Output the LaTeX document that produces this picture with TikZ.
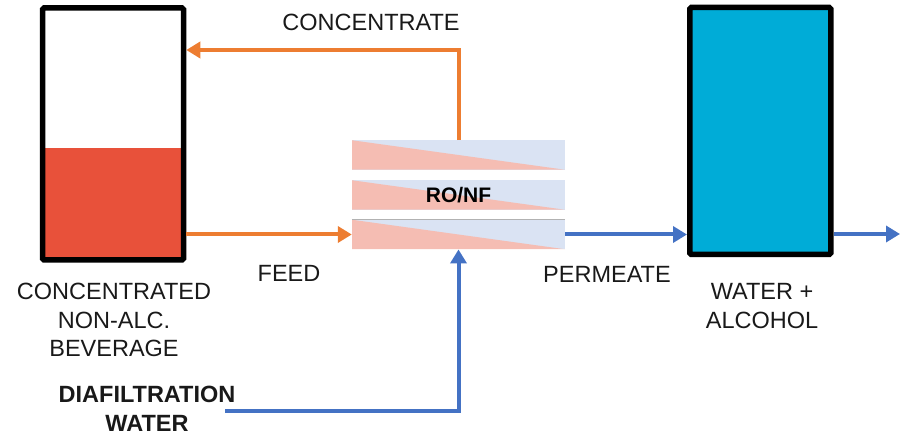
\documentclass[tikz,border=0pt]{standalone}
\usepackage{fontspec}
\setmainfont{Liberation Sans}
\usetikzlibrary{arrows.meta}
\definecolor{orangeC}{HTML}{ED7D31}
\definecolor{blueC}{HTML}{4472C4}
\definecolor{redC}{HTML}{E8513A}
\definecolor{cyanC}{HTML}{00ACD7}
\definecolor{lblue}{HTML}{DAE3F3}
\definecolor{pinkC}{HTML}{F5BDB3}
\tikzset{
  tank/.style={draw=black, line width=5.5pt, rounded corners=1.5pt, minimum width=141pt, inner sep=0pt},
  module/.style={fill=lblue, minimum width=213pt, minimum height=29.5pt, inner sep=0pt,
    path picture={\fill[pinkC] (path picture bounding box.north west) -- (path picture bounding box.south east) -- (path picture bounding box.south west) -- cycle;}},
  lbl/.style={font=\fontsize{23.5}{28.5}\selectfont, align=center, text=black!90, inner sep=0pt},
  flowO/.style={draw=orangeC, line width=4pt, -{Triangle[length=14pt,width=16pt]}},
  flowB/.style={draw=blueC, line width=4pt, -{Triangle[length=14pt,width=16pt]}},
}
\begin{document}
\begin{tikzpicture}[x=1pt,y=-1pt]
\useasboundingbox (0,0) rectangle (902,435);
% left tank
\fill[redC] (42.5,148) rectangle (183.5,260);
\node[tank, minimum height=252pt] (tankL) at (113,134) {};
% right tank
\node[tank, fill=cyanC, minimum height=247pt] (tankR) at (760.25,131) {};
% modules
\node[module] (m1) at (458.5,155) {};
\node[module] (m2) at (458.5,195) {\fontsize{21}{24}\selectfont\bfseries RO/NF};
\node[module] (m3) at (458.5,234.5) {};
\draw[black!30, line width=0.8pt] (m3.north west) -- (m3.north east);
% labels
\node[lbl] (lconc) at (371,22) {CONCENTRATE};
\node[lbl] (lfeed) at (289,273) {FEED};
\node[lbl] (lperm) at (607,274) {PERMEATE};
\node[lbl] (lbev) at (114,320) {CONCENTRATED\\NON-ALC.\\BEVERAGE};
\node[lbl] (lwa) at (762,306) {WATER +\\ALCOHOL};
\node[lbl, font=\fontsize{23.5}{28.5}\selectfont\bfseries] (ldia) at (147,409) {DIAFILTRATION\\WATER};
% connectors
\coordinate (c1) at (458.5,50);
\draw[flowO] (m1.north) -- (c1) -- (c1 -| tankL.east);
\draw[flowO] (tankL.east |- m3.west) -- (m3.west);
\coordinate (d1) at (225,411);
\draw[flowB] (d1) -| (m3.south);
\draw[flowB] (m3.east) -- (tankR.west |- m3.east);
\coordinate (o1) at (900,234);
\draw[flowB] (tankR.east |- o1) -- (o1);
\end{tikzpicture}
\end{document}
